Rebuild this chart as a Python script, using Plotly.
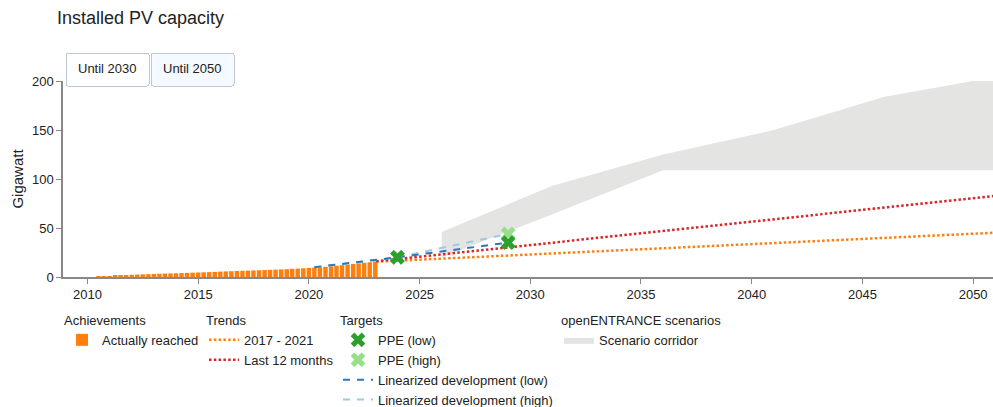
import pandas as pd
import plotly.graph_objects as go

# ---------------- data ----------------
quarter_dates = pd.date_range("2010-07-01", "2023-01-01", freq="QS").strftime("%Y-%m-%d").tolist()
installed_gw = [0.2, 0.5,
                0.9, 1.3, 1.7, 2.0,
                2.3, 2.5, 2.7, 2.9,
                3.1, 3.3, 3.5, 3.6,
                3.8, 4.0, 4.2, 4.4,
                4.6, 4.8, 5.0, 5.2,
                5.5, 5.7, 5.9, 6.1,
                6.3, 6.5, 6.7, 6.9,
                7.1, 7.3, 7.5, 7.8,
                8.0, 8.3, 8.6, 8.9,
                9.3, 9.6, 10.0, 10.4,
                10.9, 11.5, 12.1, 12.7,
                13.3, 13.9, 14.5, 15.1,
                15.9]

trend_1721_x = ["2023-01-15", "2051-01-01"]
trend_1721_y = [15.6, 45.2]
trend_12m_x = ["2023-01-15", "2051-01-01"]
trend_12m_y = [16.0, 82.8]

lin_x = ["2020-04-01", "2024-01-01", "2029-01-01"]
lin_low_y = [10.0, 20.1, 35.1]
lin_high_y = [10.0, 20.1, 44.0]

ppe_x = ["2024-01-01", "2029-01-01"]
ppe_low_y = [20.1, 35.1]
ppe_high_y = [20.1, 44.0]

scen_x = ["2026-01-01", "2031-01-01", "2036-01-01", "2041-01-01", "2046-01-01", "2050-01-01", "2051-01-01"]
scen_upper = [46, 93, 125, 150, 184, 200, 200]
scen_lower = [20, 64, 109, 109, 109, 109, 109]

# ---------------- figure ----------------
FONT = "Liberation Sans, Arial, sans-serif"
W, H = 993, 407
ML, MR, MT, MB = 63, 0, 81, 130
PW = W - ML - MR
PH = H - MT - MB

def px_x(px):
    return (px - ML) / PW

def px_y(py):
    return (H - MB - py) / PH

fig = go.Figure()

fig.add_trace(go.Scatter(
    x=scen_x + scen_x[::-1], y=scen_upper + scen_lower[::-1],
    fill="toself", fillcolor="#e4e4e2", line=dict(width=0), mode="lines",
    name="Scenario corridor", legend="legend4"))

fig.add_trace(go.Bar(
    x=quarter_dates, y=installed_gw, marker=dict(color="#ff7f0e", line=dict(width=0)),
    name="Actually reached", legend="legend"))

fig.add_trace(go.Scatter(
    x=trend_1721_x, y=trend_1721_y, mode="lines",
    line=dict(color="#ff7f0e", width=2.5, dash="2.5px,2.3px"),
    name="2017 - 2021", legend="legend2"))
fig.add_trace(go.Scatter(
    x=trend_12m_x, y=trend_12m_y, mode="lines",
    line=dict(color="#d62728", width=2.5, dash="2.5px,2.3px"),
    name="Last 12 months", legend="legend2"))

fig.add_trace(go.Scatter(
    x=lin_x, y=lin_high_y, mode="lines",
    line=dict(color="#9ecae1", width=2, dash="7px,7px"),
    name="Linearized development (high)", legend="legend3", legendrank=4))
fig.add_trace(go.Scatter(
    x=lin_x, y=lin_low_y, mode="lines",
    line=dict(color="#2a7ab8", width=2, dash="7px,7px"),
    name="Linearized development (low)", legend="legend3", legendrank=3))
fig.add_trace(go.Scatter(
    x=ppe_x, y=ppe_high_y, mode="markers",
    marker=dict(symbol="x", size=13, color="#98df8a", line=dict(width=0)),
    name="PPE (high)", legend="legend3", legendrank=2))
fig.add_trace(go.Scatter(
    x=ppe_x, y=ppe_low_y, mode="markers",
    marker=dict(symbol="x", size=13, color="#2ca02c", line=dict(width=0)),
    name="PPE (low)", legend="legend3", legendrank=1))

legend_common = dict(
    orientation="v", xanchor="left", yanchor="top", y=px_y(308),
    bgcolor="rgba(0,0,0,0)", font=dict(family=FONT, size=13, color="#222"),
    tracegroupgap=0, itemclick=False, itemdoubleclick=False,
)

def leg(text_px, title):
    d = dict(legend_common)
    d["x"] = px_x(text_px - 38)
    d["title"] = dict(text=title, font=dict(family=FONT, size=13, color="#222"))
    return d

x_range_2050 = ["2008-11-23", "2050-11-25"]
x_range_2030 = ["2008-11-23", "2030-06-01"]

fig.update_layout(
    width=W, height=H,
    margin=dict(l=ML, r=MR, t=MT, b=MB, autoexpand=False),
    paper_bgcolor="white", plot_bgcolor="white",
    font=dict(family=FONT, size=13, color="#222"),
    title=dict(text="Installed PV capacity", x=57 / W, xanchor="left", xref="container",
               y=1 - 11 / H, yanchor="top", yref="container",
               font=dict(family=FONT, size=18, color="#222")),
    bargap=0.18,
    showlegend=True,
    legend=leg(100, "Achievements"),
    legend2=leg(242, "Trends"),
    legend3=leg(376, "Targets"),
    legend4=leg(597, "openENTRANCE scenarios"),
    xaxis=dict(type="date", range=x_range_2050, showgrid=False, zeroline=False,
               showline=True, linecolor="#888", linewidth=1.5,
               ticks="outside", ticklen=5, tickcolor="#888",
               tick0="2010-01-01", dtick="M60", tickformat="%Y",
               tickfont=dict(family=FONT, size=13, color="#222")),
    yaxis=dict(range=[0, 200], showgrid=False, zeroline=False,
               showline=True, linecolor="#888", linewidth=1.5,
               ticks="outside", ticklen=5, tickcolor="#888",
               tickvals=[0, 50, 100, 150, 200],
               tickfont=dict(family=FONT, size=13, color="#222"),
               title=dict(text="Gigawatt", standoff=5, font=dict(family=FONT, size=15, color="#222"))),
    updatemenus=[dict(
        type="buttons", direction="right", active=1, showactive=True,
        x=px_x(65), xanchor="left", y=px_y(52), yanchor="top",
        pad=dict(t=0, r=0, b=0, l=0),
        bgcolor="white", bordercolor="#BEC8D9", borderwidth=1,
        font=dict(family=FONT, size=13, color="#222"),
        buttons=[
            dict(label="Until 2030", method="relayout", args=[{"xaxis.range": x_range_2030}]),
            dict(label="Until 2050", method="relayout", args=[{"xaxis.range": x_range_2050}]),
        ],
    )],
)

fig.write_html("out.html", config={"displayModeBar": False},
               post_script="document.body.style.margin='0px';")
